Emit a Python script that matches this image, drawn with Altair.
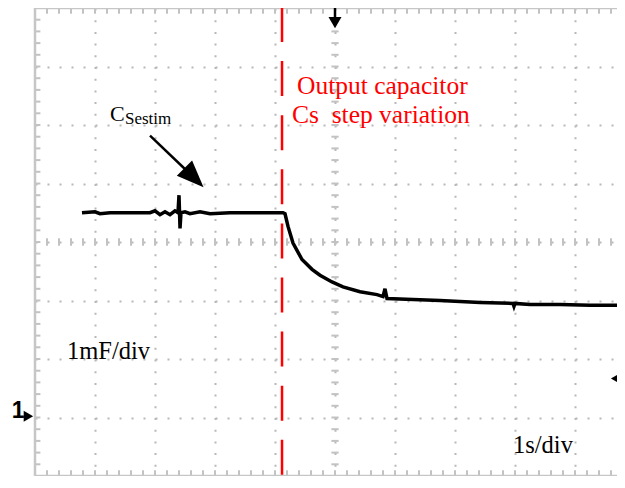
import altair as alt
import pandas as pd

# ---- measured trace: time (s, 1 s/div) and capacitance estimate (div, 1 mF/div, counted from screen bottom)
time_s = [0.783, 1.0, 1.083, 1.25, 1.917, 2.0, 2.083, 2.167, 2.25, 2.333, 2.383, 2.4, 2.417,
          2.433, 2.5, 2.583, 2.75, 2.917, 3.25, 3.583, 3.917, 4.133, 4.167, 4.217, 4.3, 4.45,
          4.617, 4.75, 4.95, 5.133, 5.417, 5.7, 5.8, 5.833, 5.867, 6.3, 6.75, 7.417, 7.967,
          7.983, 8.0, 8.25, 8.75, 9.25, 9.833]
cap_div = [4.5, 4.517, 4.483, 4.5, 4.5, 4.533, 4.467, 4.517, 4.467, 4.533, 4.5, 4.8, 4.233,
           4.5, 4.517, 4.483, 4.517, 4.483, 4.5, 4.5, 4.5, 4.5, 4.483, 4.267, 3.983, 3.7,
           3.533, 3.433, 3.317, 3.233, 3.15, 3.1, 3.067, 3.2, 3.033, 3.017, 3.0, 2.967, 2.95,
           2.9, 2.95, 2.933, 2.933, 2.917, 2.917]

step_time = 4.117          # red dashed marker (output capacitor step)
x_max, y_max = 9.7, 8.0
major_x = [1, 2, 3, 4, 5, 6, 7, 8, 9]
major_y = [1, 2, 3, 4, 5, 6, 7]
minor_x = [i / 5 for i in range(49)]
minor_y = [i / 5 for i in range(41)]

GRID = "#b8b8b8"
TICK = "#c2c2c2"

xs = alt.Scale(domain=[0, x_max], nice=False, zero=False)
ys = alt.Scale(domain=[0, y_max], nice=False, zero=False)
ax_x = alt.Axis(values=major_x, grid=True, gridDash=[2, 9.7], gridColor=GRID, gridWidth=2,
                domain=False, ticks=False, labels=False, title=None)
ax_y = alt.Axis(values=major_y, grid=True, gridDash=[2, 10], gridColor=GRID, gridWidth=2,
                domain=False, ticks=False, labels=False, title=None)


def X(f):
    return alt.X(f + ":Q", scale=xs, axis=ax_x)


def Y(f):
    return alt.Y(f + ":Q", scale=ys, axis=ax_y)


# ---- minor tick segments on centre lines and edges
segs = []
for v in minor_x:
    segs.append(dict(x=v, x2=v, y=4 - 0.062, y2=4 + 0.062))
    segs.append(dict(x=v, x2=v, y=0, y2=0.1))
    segs.append(dict(x=v, x2=v, y=y_max, y2=y_max - 0.1))
for v in minor_y:
    segs.append(dict(x=5 - 0.06, x2=5 + 0.06, y=v, y2=v))
    segs.append(dict(x=0, x2=0.09, y=v, y2=v))
seg_df = pd.DataFrame(segs)

ticks = alt.Chart(seg_df).mark_rule(color=TICK, strokeWidth=2).encode(
    x=X("x"), x2="x2", y=Y("y"), y2="y2")

frame_df = pd.DataFrame([
    dict(x=0, x2=0, y=0, y2=y_max),
    dict(x=0, x2=x_max, y=y_max, y2=y_max),
    dict(x=0, x2=x_max, y=0, y2=0),
])
frame = alt.Chart(frame_df).mark_rule(color="#c6c6c6", strokeWidth=2.5).encode(
    x=X("x"), x2="x2", y=Y("y"), y2="y2")

step_df = pd.DataFrame(dict(x=[step_time], y=[y_max], y2=[0]))
step = alt.Chart(step_df).mark_rule(color="#ff0000", strokeWidth=2.5,
                                    strokeDash=[35, 19.1], strokeDashOffset=1).encode(
    x=X("x"), y=Y("y"), y2="y2")

trace_df = pd.DataFrame(dict(t=time_s, c=cap_div))
trace = alt.Chart(trace_df).mark_line(color="black", strokeWidth=3.5).encode(
    x=X("t"), y=Y("c"), order="t:Q")

# ---- annotation arrow
arrow_df = pd.DataFrame(dict(x=[1.917], y=[5.817], x2=[2.66], y2=[5.09]))
arrow_line = alt.Chart(arrow_df).mark_rule(color="black", strokeWidth=2.5).encode(
    x=X("x"), y=Y("y"), x2="x2", y2="y2")
head_df = pd.DataFrame(dict(x=[2.65], y=[5.10]))
arrow_head = alt.Chart(head_df).mark_point(
    shape="M1,0L-1,-0.8L-1,0.8Z", filled=True, size=729, angle=45,
    color="black", opacity=1, strokeWidth=0).encode(x=X("x"), y=Y("y"))

# ---- texts
lab_df = pd.DataFrame(dict(
    x=[4.367, 4.283, 1.25, 0.533, 7.967],
    y=[6.533, 6.033, 6.067, 2.0, 0.4],
    text=["Output capacitor", "Cs\u00a0 step variation", "C", "1mF/div", "1s/div"],
    color=["#ff0000", "#ff0000", "black", "black", "black"],
    size=[25.5, 25.5, 22, 24.5, 24.5],
))
labels = alt.Chart(lab_df).mark_text(align="left", baseline="alphabetic",
                                     font="Liberation Serif").encode(
    x=X("x"), y=Y("y"), text="text:N",
    color=alt.Color("color:N", scale=None), size=alt.Size("size:Q", scale=None))

sub_df = pd.DataFrame(dict(x=[1.5], y=[6.017], text=["Sestim"]))
sub = alt.Chart(sub_df).mark_text(align="left", baseline="alphabetic",
                                  font="Liberation Serif", fontSize=17, color="black").encode(
    x=X("x"), y=Y("y"), text="text:N")

# ---- scope markers
one_df = pd.DataFrame(dict(x=[-0.28], y=[0.983], text=["1"]))
one = alt.Chart(one_df).mark_text(align="center", baseline="alphabetic",
                                  font="Liberation Sans", fontSize=23, fontWeight="bold",
                                  color="black").encode(
    x=X("x"), y=Y("y"), text="text:N")

m_right = alt.Chart(pd.DataFrame(dict(x=[-0.11], y=[1.02]))).mark_point(
    shape="triangle-right", filled=True, size=120, color="black", opacity=1).encode(
    x=X("x"), y=Y("y"))
m_left = alt.Chart(pd.DataFrame(dict(x=[9.687], y=[1.667]))).mark_point(
    shape="triangle-left", filled=True, size=150, color="black", opacity=1).encode(
    x=X("x"), y=Y("y"))
m_top = alt.Chart(pd.DataFrame(dict(x=[5.0], y=[7.75]))).mark_point(
    shape="triangle-down", filled=True, size=170, color="black", opacity=1).encode(
    x=X("x"), y=Y("y"))
m_top_stem = alt.Chart(pd.DataFrame(dict(x=[5.0], y=[y_max], y2=[7.8]))).mark_rule(
    color="black", strokeWidth=2.5).encode(x=X("x"), y=Y("y"), y2="y2")

chart = alt.layer(
    ticks, frame, step, trace, arrow_line, arrow_head, labels, sub,
    one, m_right, m_left, m_top, m_top_stem,
).properties(
    width=582, height=468,
    padding={"left": 27, "top": 0, "right": 0, "bottom": 0},
    autosize=alt.AutoSizeParams(type="none"),
).configure_view(strokeWidth=0).configure(background="white")

chart.save("out.html", embed_options={"renderer": "svg", "actions": False})
